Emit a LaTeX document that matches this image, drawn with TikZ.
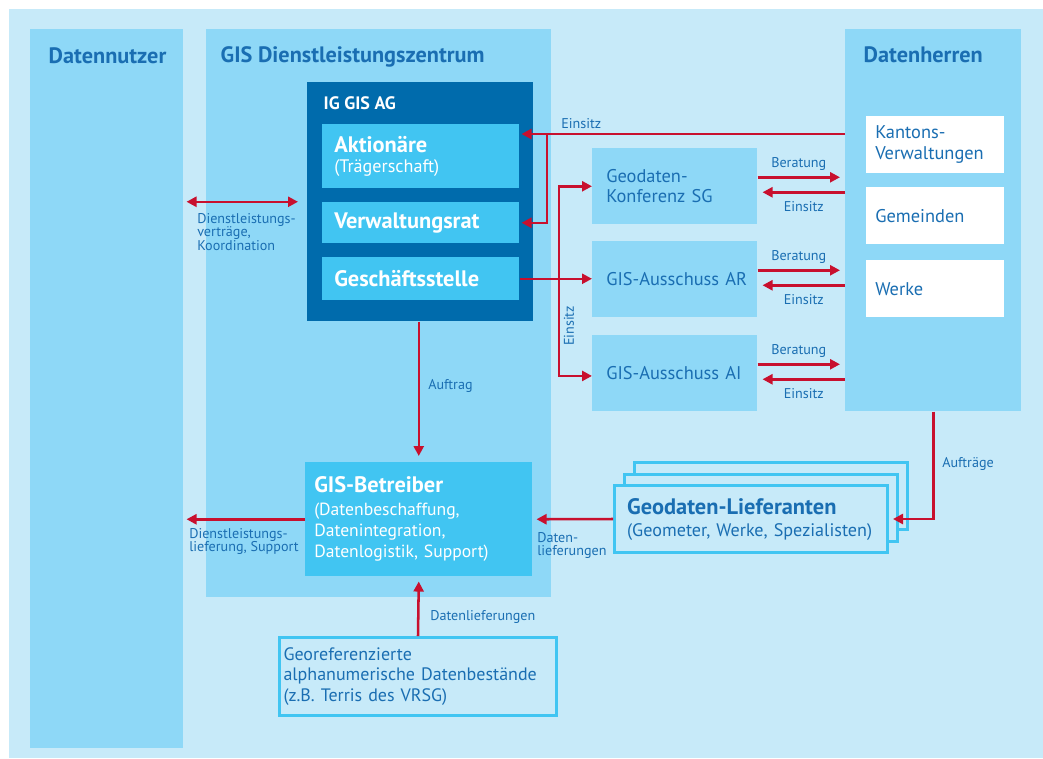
\documentclass[tikz,border=0pt]{standalone}
\usepackage{fontspec}
\setmainfont{PT Sans}
\usetikzlibrary{arrows.meta}

\definecolor{hgHell}{HTML}{C7EAF9}
\definecolor{spalteBlau}{HTML}{8ED8F7}
\definecolor{igBlau}{HTML}{006BAC}
\definecolor{kastenCyan}{HTML}{41C5F2}
\definecolor{textBlau}{HTML}{1A6EB2}
\definecolor{pfeilRot}{HTML}{C8102E}

\newcommand{\boxtitel}[1]{{\fontsize{16.8}{18}\selectfont\bfseries #1}}

\tikzset{
  flaeche/.style={anchor=north west, inner sep=0pt},
  spalte/.style={flaeche, fill=spalteBlau},
  titel/.style={anchor=base west, text=textBlau, font=\fontsize{16.7}{19}\selectfont\bfseries},
  klein/.style={text=textBlau, inner sep=0pt, align=left, font=\fontsize{10.6}{10.2}\selectfont},
  kasten/.style={flaeche, align=left, fill=kastenCyan, text=white},
  organ/.style={kasten, text width=147.75pt, execute at begin node={\leftskip=9pt}, font=\fontsize{13.6}{15}\selectfont},
  gremium/.style={flaeche, align=left, fill=spalteBlau, text=textBlau, text width=123.75pt, minimum height=57pt,
    execute at begin node={\leftskip=10.5pt}, font=\fontsize{13.8}{15}\selectfont},
  herr/.style={flaeche, align=left, fill=white, text=textBlau, text width=103.5pt, minimum height=42.75pt,
    execute at begin node={\leftskip=6.75pt}, font=\fontsize{13.8}{15.75}\selectfont},
  rahmen/.style={flaeche, align=left, draw=kastenCyan, line width=2.25pt, fill=hgHell, text=textBlau},
  pfeil/.style={draw=pfeilRot, line width=1.9pt, -{Triangle[length=7.5pt,width=7.5pt]}},
}

\begin{document}
\begin{tikzpicture}[x=0.75pt, y=-0.75pt]
  % Hintergrund und Spalten
  \useasboundingbox (0,0) rectangle (1043,758);
  \fill[hgHell] (9,9) rectangle (1043,758);
  \node[spalte, minimum width=114.75pt, minimum height=539.25pt] (nutzer) at (30,29) {};
  \node[spalte, minimum width=258.75pt, minimum height=426pt] (zentrum) at (206,29) {};
  \node[spalte, minimum width=132pt, minimum height=286.5pt] (herren) at (845,29) {};
  \node[titel] (tNutzer) at (44,63) {Datennutzer};
  \node[titel] (tZentrum) at (216,62) {GIS Dienstleistungszentrum};
  \node[titel] (tHerren) at (859,62) {Datenherren};

  % IG GIS AG mit ihren Organen
  \node[flaeche, fill=igBlau, minimum width=169.5pt, minimum height=179.25pt] (ig) at (307,82) {};
  \node[anchor=base west, text=white, font=\fontsize{13.5}{15}\selectfont\bfseries] (tIg) at (319,109) {IG GIS AG};
  \node[organ, minimum height=48pt] (aktionaere) at (322,124) {\boxtitel{Aktionäre}\\(Trägerschaft)};
  \node[organ, minimum height=30.75pt] (vr) at (322,202) {\boxtitel{Verwaltungsrat}};
  \node[organ, minimum height=32.25pt] (gs) at (322,257) {\boxtitel{Geschäftsstelle}};

  % Gremien
  \node[gremium] (konferenz) at (592,148) {Geodaten-\\Konferenz SG};
  \node[gremium] (ausschussAR) at (592,241) {GIS-Ausschuss AR};
  \node[gremium] (ausschussAI) at (592,335) {GIS-Ausschuss AI};

  % Datenherren
  \node[herr] (kanton) at (866,116) {Kantons-\\Verwaltungen};
  \node[herr] (gemeinden) at (866,187) {Gemeinden};
  \node[herr] (werke) at (866,260) {Werke};

  % GIS-Betreiber
  \node[kasten, text width=170.25pt, minimum height=85.5pt, execute at begin node={\leftskip=6.75pt},
    font=\fontsize{13.2}{15.75}\selectfont] (betreiber) at (305,462)
    {\boxtitel{GIS-Betreiber}\\[1.5pt](Datenbeschaffung,\\Datenintegration,\\Datenlogistik, Support)};

  % Geodaten-Lieferanten (Stapel)
  \node[rahmen, minimum width=204.75pt, minimum height=50.25pt] (lief3) at (633,461) {};
  \node[rahmen, minimum width=204.75pt, minimum height=50.25pt] (lief2) at (623,472.5) {};
  \node[rahmen, text width=204.75pt, minimum height=50.25pt, execute at begin node={\leftskip=9.5pt},
    font=\fontsize{13.6}{16.5}\selectfont] (lief1) at (613,484)
    {\boxtitel{Geodaten-Lieferanten}\\(Geometer, Werke, Spezialisten)};

  % Datenbestaende
  \node[rahmen, text width=207.75pt, minimum height=58.5pt, execute at begin node={\leftskip=3pt},
    font=\fontsize{13.5}{15.4}\selectfont] (bestaende) at (278,636)
    {Georeferenzierte\\alphanumerische Datenbestände\\(z.B. Terris des VRSG)};

  % Vertraege zwischen Nutzern und IG
  \draw[pfeil, {Triangle[length=7.5pt,width=7.5pt]}-{Triangle[length=7.5pt,width=7.5pt]}]
    ([xshift=2.25pt]nutzer.east |- ig.west) -- ([xshift=-6.75pt]ig.west);
  \node[klein, anchor=north west] (lVertraege) at (197,213) {Dienstleistungs-\\verträge,\\Koordination};

  % Einsitz der Datenherren in der IG
  \coordinate (abzweigIg) at (547,134);
  \draw[pfeil] (herren.west |- abzweigIg) -- ([xshift=1.5pt]aktionaere.east |- abzweigIg);
  \draw[pfeil] (abzweigIg) |- ([xshift=1.5pt]vr.east);
  \node[klein, anchor=base west] (lEinsitzIg) at (561,128) {Einsitz};

  % Einsitz der Geschaeftsstelle in den Gremien
  \coordinate (abzweigGs) at (559,279);
  \draw[pfeil] (gs.east) -- (gs.east -| ausschussAR.west);
  \draw[pfeil] (abzweigGs) |- (konferenz.west);
  \draw[pfeil] (abzweigGs) |- ([yshift=-2pt]ausschussAI.west);
  \node[klein, rotate=90] (lEinsitzGs) at (569,326) {Einsitz};

  % Beratung und Einsitz zwischen Gremien und Datenherren
  \draw[pfeil] ([yshift=6.75pt]konferenz.east) -- ([yshift=6.75pt, xshift=-3.75pt]konferenz.east -| herren.west)
    node[klein, midway, above=4.2pt] (lBeratung1) {Beratung};
  \draw[pfeil] ([yshift=-4.5pt]konferenz.east -| herren.west) -- ([yshift=-4.5pt, xshift=3.75pt]konferenz.east)
    node[klein, midway, below=6.2pt] (lEinsitz1) {Einsitz};
  \draw[pfeil] ([yshift=6.75pt]ausschussAR.east) -- ([yshift=6.75pt, xshift=-3.75pt]ausschussAR.east -| herren.west)
    node[klein, midway, above=4.2pt] (lBeratung2) {Beratung};
  \draw[pfeil] ([yshift=-4.5pt]ausschussAR.east -| herren.west) -- ([yshift=-4.5pt, xshift=3.75pt]ausschussAR.east)
    node[klein, midway, below=6.2pt] (lEinsitz2) {Einsitz};
  \draw[pfeil] ([yshift=6.75pt]ausschussAI.east) -- ([yshift=6.75pt, xshift=-3.75pt]ausschussAI.east -| herren.west)
    node[klein, midway, above=4.2pt] (lBeratung3) {Beratung};
  \draw[pfeil] ([yshift=-4.5pt]ausschussAI.east -| herren.west) -- ([yshift=-4.5pt, xshift=3.75pt]ausschussAI.east)
    node[klein, midway, below=6.2pt] (lEinsitz3) {Einsitz};

  % Auftrag an den GIS-Betreiber
  \draw[pfeil] (ig.south -| betreiber.north) -- ([yshift=4.5pt]betreiber.north);
  \node[klein, anchor=base west] (lAuftrag) at (428,389) {Auftrag};

  % Datenlieferungen an den GIS-Betreiber
  \draw[pfeil] (bestaende.north) -- ([yshift=-3.75pt]betreiber.south);
  \node[klein, anchor=base west] (lDatenlief) at (430,620) {Datenlieferungen};
  \draw[pfeil] (lief1.west) -- ([xshift=3pt]betreiber.east);
  \node[klein, anchor=north west] (lDatenlief2) at (537,532) {Daten-\\lieferungen};

  % Lieferung an die Datennutzer
  \draw[pfeil] (betreiber.west) -- ([xshift=2.25pt]nutzer.east |- betreiber.west);
  \node[klein, anchor=north west] (lLieferung) at (189,528) {Dienstleistungs-\\lieferung, Support};

  % Auftraege an die Lieferanten
  \draw[pfeil] (herren.south) |- ([xshift=3pt]lief1.east);
  \node[klein, anchor=base west] (lAuftraege) at (942,467) {Aufträge};
\end{tikzpicture}
\end{document}
